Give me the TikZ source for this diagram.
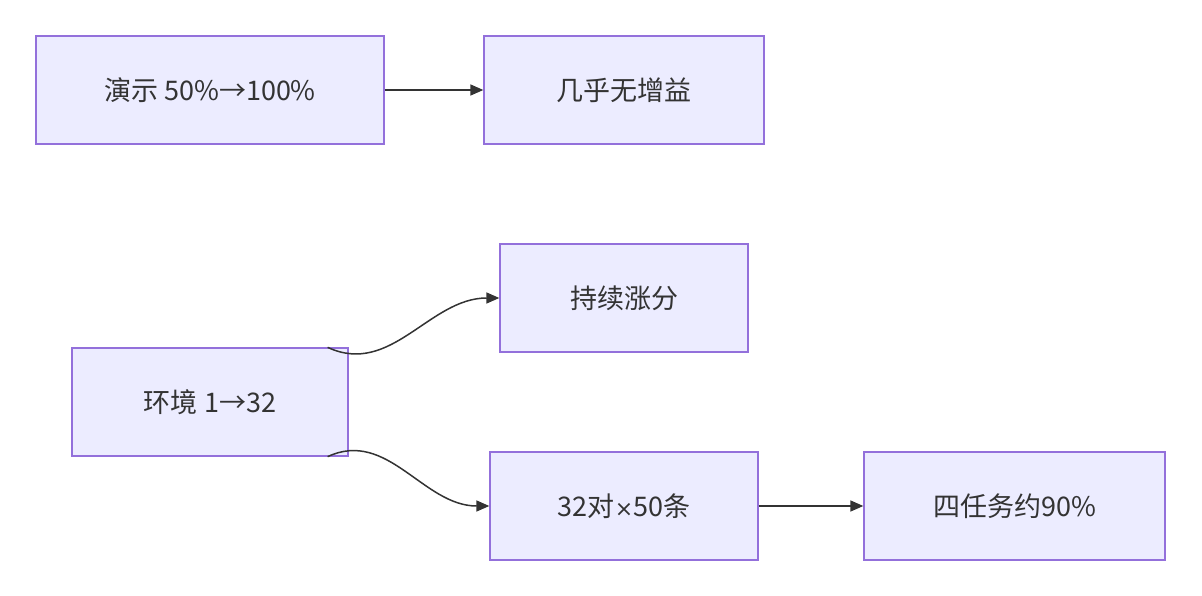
\documentclass[tikz,border=0pt]{standalone}
\usepackage{fontspec}
\setmainfont{Noto Sans CJK SC}
\newfontfamily\latinfont{DejaVu Sans}
\usetikzlibrary{arrows.meta}
\definecolor{boxfill}{HTML}{ECECFF}
\definecolor{boxline}{HTML}{9370DB}
\definecolor{ink}{HTML}{333333}
\begin{document}
\begin{tikzpicture}[x=1pt,y=-1pt,
  box/.style={draw=boxline,fill=boxfill,line width=1.3pt,text=ink,font=\fontsize{27}{32}\selectfont,minimum height=108pt,inner sep=0pt},
  link/.style={draw=ink,line width=1.5pt,-{Triangle[length=13pt,width=11pt]}}]
\useasboundingbox (0,0) rectangle (1202,596);
\node[box,minimum width=348pt] (demo) at (210,90) {演示 50\%→100\%};
\node[box,minimum width=280pt] (flat) at (624,90) {几乎无增益};
\node[box,minimum width=276pt] (env) at (210,402) {环境 1→32};
\node[box,minimum width=248pt] (gain) at (624,298) {持续涨分};
\node[box,minimum width=268pt] (pairs) at (624,506) {32对{\latinfont\fontsize{22}{26}\selectfont ×}50条};
\node[box,minimum width=301pt] (tasks) at (1014.5,506) {四任务约90\%};
\draw[link] (demo) -- (flat);
\draw[link] ([xshift=-21pt]env.north east) to[out=-25,in=180] (gain.west);
\draw[link] ([xshift=-21pt]env.south east) to[out=25,in=180] (pairs.west);
\draw[link] (pairs) -- (tasks);
\end{tikzpicture}
\end{document}
